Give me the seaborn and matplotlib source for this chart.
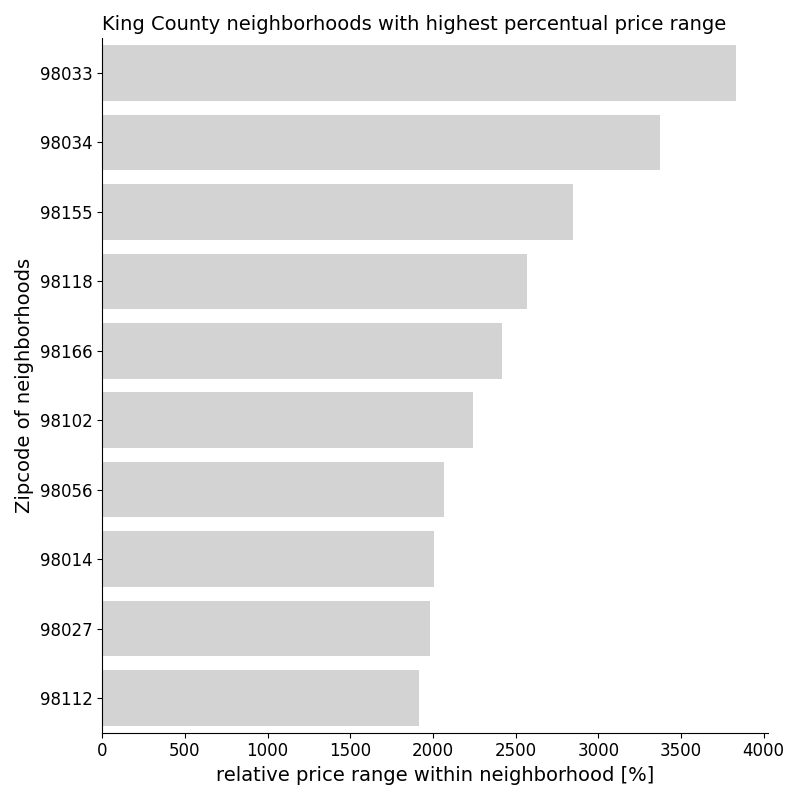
import pandas as pd
import matplotlib
matplotlib.use("Agg")
import matplotlib.pyplot as plt
import seaborn as sns

zipcodes = ["98033", "98034", "98155", "98118", "98166",
            "98102", "98056", "98014", "98027", "98112"]
price_range_pct = [3834, 3370, 2845, 2568, 2416,
                   2240, 2066, 2006, 1982, 1916]

df = pd.DataFrame({"zipcode": zipcodes, "range": price_range_pct})

fig, ax = plt.subplots(figsize=(8, 8), dpi=100)
sns.barplot(data=df, x="range", y="zipcode", color="lightgrey", saturation=1, ax=ax)
sns.despine()

ax.set_title("King County neighborhoods with highest percentual price range", loc="left", fontsize=14)
ax.set_xlabel("relative price range within neighborhood [%]", fontsize=14)
ax.set_ylabel("Zipcode of neighborhoods", fontsize=14)
ax.tick_params(labelsize=12)

plt.tight_layout()
plt.savefig("out.png")
